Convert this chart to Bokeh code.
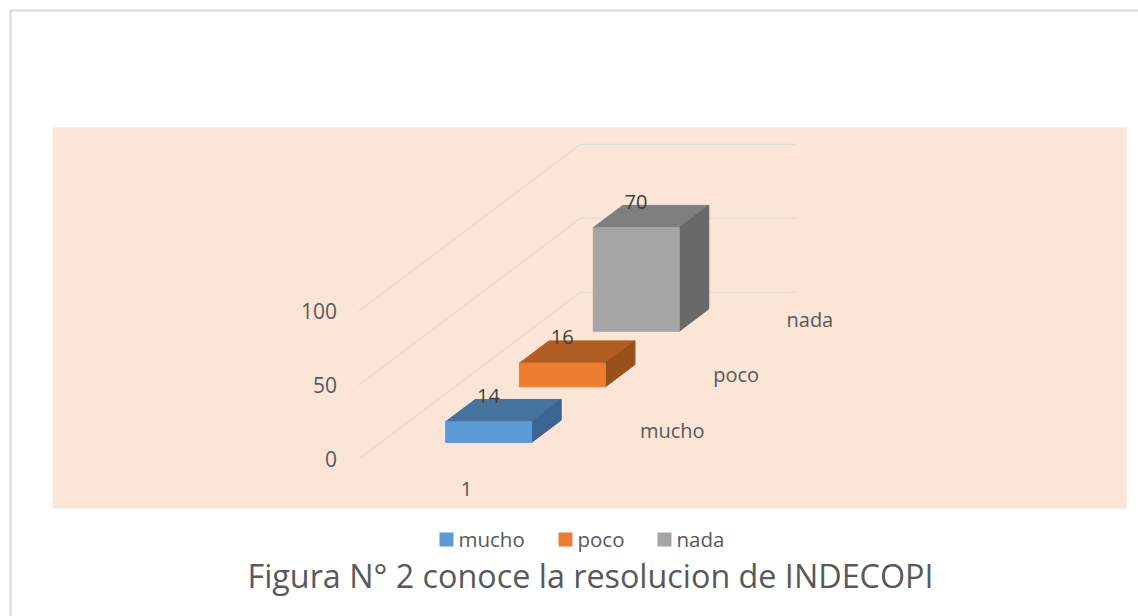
from bokeh.plotting import figure
from bokeh.models import Range1d
from bokeh.core.properties import value
from bokeh.embed import file_html
from bokeh.resources import INLINE

# ---- data ----
categories = ["mucho", "poco", "nada"]
values = [14, 16, 70]
front_colors = ["#5B9BD5", "#ED7D31", "#A5A5A5"]
top_colors = ["#44739F", "#B25E22", "#7F7F7F"]
side_colors = ["#3A6590", "#975119", "#696969"]
y_ticks = [0, 50, 100]
x_tick = "1"
title = "Figura N° 2 conoce la resolucion de INDECOPI"

FONT = "Open Sans"
GREY = "#595959"

W, H = 1138, 616
p = figure(width=W, height=H, output_backend="svg", toolbar_location=None,
           x_range=Range1d(0, W), y_range=Range1d(H, 0),
           min_border=0, outline_line_color=None, background_fill_color="white",
           border_fill_color="white", x_axis_type="linear")
p.axis.visible = False
p.grid.visible = False

# ---- oblique projection of (u across, v value, d depth) to page pixels ----
X0, Y0 = 358.5, 458.6
UX, VY, DX, DY = 215.0, 1.48, 73.8, 55.6
def proj(u, v, d):
    return X0 + UX * u + DX * d, Y0 - VY * v - DY * d

# outer frame and plot band
p.quad(left=[52], right=[1126], top=[127], bottom=[508], fill_color="#FBE5D6", line_color=None)
p.line([10, 10, 1138], [616, 10, 10], line_color="#D9D9D9", line_width=2)

# walls' gridlines
n = len(categories)
for t in y_ticks:
    pts = [proj(0, t, 0), proj(0, t, n), proj(1, t, n)]
    p.line([a for a, _ in pts], [b for _, b in pts], line_color="#E3DCD5", line_width=1.2)
    x, y = proj(0, t, 0)
    p.text([x - 22], [y], text=[str(t)], text_font=value(FONT), text_font_size="21px",
           text_color=GREY, text_align="right", text_baseline="middle")

# bars, back to front
GAP = 0.3
for i in reversed(range(n)):
    v = values[i]
    u0, u1, d0, d1 = GAP, 1 - GAP, i + GAP, i + 1 - GAP
    faces = [
        ([(u0, v, d0), (u1, v, d0), (u1, v, d1), (u0, v, d1)], top_colors[i]),
        ([(u1, 0, d0), (u1, 0, d1), (u1, v, d1), (u1, v, d0)], side_colors[i]),
        ([(u0, 0, d0), (u1, 0, d0), (u1, v, d0), (u0, v, d0)], front_colors[i]),
    ]
    for corners, color in faces:
        pts = [proj(*c) for c in corners]
        p.patch([a for a, _ in pts], [b for _, b in pts], fill_color=color,
                line_color=color, line_width=1)
    lx, ly = proj(0.5, v, i + 0.5)
    p.text([lx - 15], [ly - 15], text=[str(v)], text_font=value(FONT), text_font_size="20px",
           text_color="#404040", text_align="center", text_baseline="middle")
    cx, cy = proj(1, 0, i + 0.5)
    p.text([cx + 29 - 0.5 * i], [cy - 1], text=[categories[i]], text_font=value(FONT), text_font_size="20px",
           text_color=GREY, text_align="left", text_baseline="middle")

tx, ty = proj(0.5, 0, 0)
p.text([tx], [ty + 30], text=[x_tick], text_font=value(FONT), text_font_size="20px",
       text_color=GREY, text_align="center", text_baseline="middle")

# legend
leg_x = [446, 565, 664]
for lxp, name, color in zip(leg_x, categories, front_colors):
    p.scatter([lxp], [539], marker="square", size=14, fill_color=color, line_color=None)
    p.text([lxp + 12], [538], text=[name], text_font=value(FONT), text_font_size="20.5px",
           text_color=GREY, text_align="left", text_baseline="middle")

# title
p.text([590], [574], text=[title], text_font=value(FONT), text_font_size="32.3px",
       text_color=GREY, text_align="center", text_baseline="middle")

open("out.html", "w").write(file_html(p, INLINE))
